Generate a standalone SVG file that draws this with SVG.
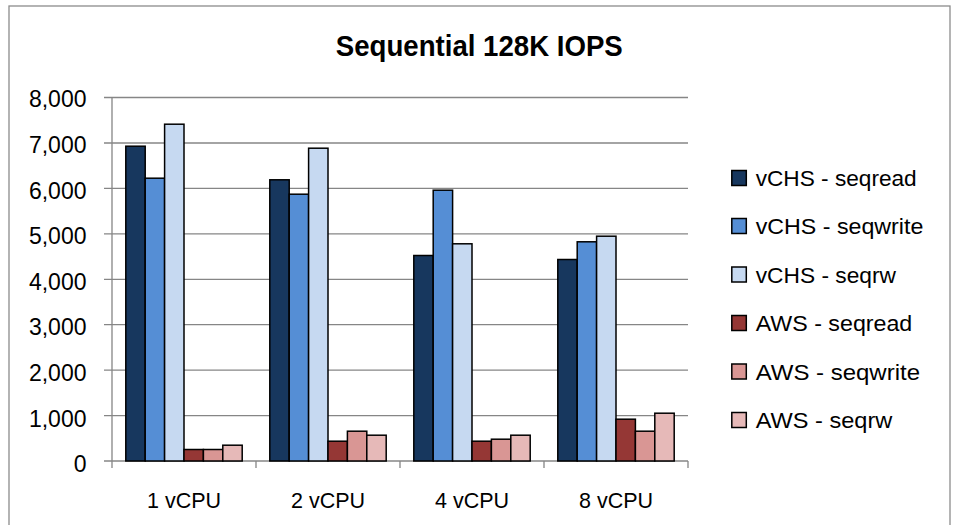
<svg xmlns="http://www.w3.org/2000/svg" width="954" height="525" viewBox="0 0 954 525">
<style>
text{font-family:"Liberation Sans",Arial,sans-serif;fill:#000}
.ax{font-size:21.5px}
.yl{font-size:23px}
.title{font-size:30px;font-weight:bold}
.grid{stroke:#868686;stroke-width:1.3;fill:none}
.bar{stroke:#000;stroke-width:1.5}
.s1{fill:#17375E}.s2{fill:#558ED5}.s3{fill:#C6D9F1}
.s4{fill:#953735}.s5{fill:#D99694}.s6{fill:#E6B9B8}
</style>
<rect x="9" y="6" width="941" height="530" fill="#fff" stroke="#8c8c8c" stroke-width="1.3"/>
<text class="title" x="479.3" y="56" text-anchor="middle" textLength="287" lengthAdjust="spacingAndGlyphs">Sequential 128K IOPS</text>
<g id="axes">
<path class="grid" d="M104 97.5H688M104 143H688M104 188.4H688M104 233.8H688M104 279.3H688M104 324.7H688M104 370.1H688M104 415.6H688M104 461H688"/>
<path class="grid" d="M112 97.5V468M256 461V468M400 461V468M544 461V468M688 461V468"/>
<g class="yl" text-anchor="end">
<text x="86.5" y="107.3">8,000</text>
<text x="86.5" y="152.9">7,000</text>
<text x="86.5" y="198.5">6,000</text>
<text x="86.5" y="244.1">5,000</text>
<text x="86.5" y="289.7">4,000</text>
<text x="86.5" y="335.3">3,000</text>
<text x="86.5" y="380.9">2,000</text>
<text x="86.5" y="426.5">1,000</text>
<text x="86.5" y="472.1">0</text>
</g>
<g class="ax" text-anchor="middle">
<text x="184" y="508">1 vCPU</text>
<text x="328" y="508">2 vCPU</text>
<text x="472" y="508">4 vCPU</text>
<text x="616" y="508">8 vCPU</text>
</g>
</g>
<g id="bars">
<g id="g1">
<rect class="bar s1" x="125.8" y="146.2" width="19.4" height="314.8"/>
<rect class="bar s2" x="145.2" y="178.2" width="19.4" height="282.8"/>
<rect class="bar s3" x="164.6" y="124.2" width="19.4" height="336.8"/>
<rect class="bar s4" x="184" y="449.5" width="19.4" height="11.5"/>
<rect class="bar s5" x="203.4" y="449.5" width="19.4" height="11.5"/>
<rect class="bar s6" x="222.8" y="445.2" width="19.4" height="15.8"/>
</g>
<g id="g2">
<rect class="bar s1" x="269.8" y="179.8" width="19.4" height="281.2"/>
<rect class="bar s2" x="289.2" y="194.2" width="19.4" height="266.8"/>
<rect class="bar s3" x="308.6" y="148.2" width="19.4" height="312.8"/>
<rect class="bar s4" x="328" y="441.2" width="19.4" height="19.8"/>
<rect class="bar s5" x="347.4" y="431.2" width="19.4" height="29.8"/>
<rect class="bar s6" x="366.8" y="435.2" width="19.4" height="25.8"/>
</g>
<g id="g3">
<rect class="bar s1" x="413.8" y="255.5" width="19.4" height="205.5"/>
<rect class="bar s2" x="433.2" y="190.2" width="19.4" height="270.8"/>
<rect class="bar s3" x="452.6" y="243.8" width="19.4" height="217.2"/>
<rect class="bar s4" x="472" y="441.2" width="19.4" height="19.8"/>
<rect class="bar s5" x="491.4" y="439.2" width="19.4" height="21.8"/>
<rect class="bar s6" x="510.8" y="435.2" width="19.4" height="25.8"/>
</g>
<g id="g4">
<rect class="bar s1" x="557.8" y="259.5" width="19.4" height="201.5"/>
<rect class="bar s2" x="577.2" y="241.8" width="19.4" height="219.2"/>
<rect class="bar s3" x="596.6" y="236.2" width="19.4" height="224.8"/>
<rect class="bar s4" x="616" y="419.2" width="19.4" height="41.8"/>
<rect class="bar s5" x="635.4" y="431.2" width="19.4" height="29.8"/>
<rect class="bar s6" x="654.8" y="413.2" width="19.4" height="47.8"/>
</g>
</g>
<g id="legend" class="ax">
<rect class="bar s1" x="731.8" y="170.5" width="14.5" height="15"/>
<text x="755.7" y="186" textLength="161" lengthAdjust="spacingAndGlyphs">vCHS - seqread</text>
<rect class="bar s2" x="731.8" y="218.5" width="14.5" height="15"/>
<text x="755.7" y="234.3" textLength="167.6" lengthAdjust="spacingAndGlyphs">vCHS - seqwrite</text>
<rect class="bar s3" x="731.8" y="267" width="14.5" height="15"/>
<text x="755.7" y="282.7" textLength="140.3" lengthAdjust="spacingAndGlyphs">vCHS - seqrw</text>
<rect class="bar s4" x="731.8" y="315.5" width="14.5" height="15"/>
<text x="755.7" y="331.3" textLength="156.6" lengthAdjust="spacingAndGlyphs">AWS - seqread</text>
<rect class="bar s5" x="731.8" y="364" width="14.5" height="15"/>
<text x="755.7" y="379.8" textLength="164.3" lengthAdjust="spacingAndGlyphs">AWS - seqwrite</text>
<rect class="bar s6" x="731.8" y="412.5" width="14.5" height="15"/>
<text x="755.7" y="428.3" textLength="136.6" lengthAdjust="spacingAndGlyphs">AWS - seqrw</text>
</g>
</svg>
